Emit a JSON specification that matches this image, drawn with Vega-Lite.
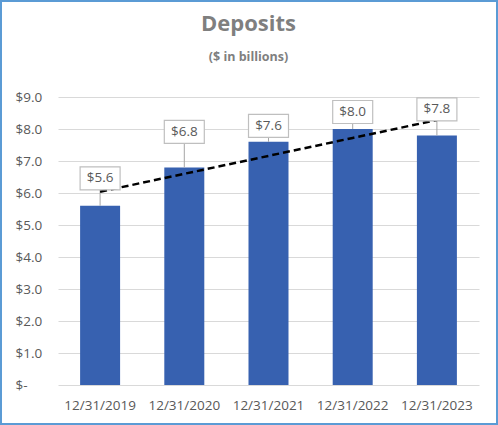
{
  "$schema": "https://vega.github.io/schema/vega-lite/v6.json",
  "width": 421,
  "height": 288,
  "autosize": {"type": "none"},
  "padding": {"left": 58, "top": 97, "right": 19, "bottom": 40},
  "background": "white",
  "title": {
    "text": "Deposits",
    "subtitle": "($ in billions)",
    "anchor": "middle",
    "dx": -20,
    "offset": -64,
    "font": "Open Sans",
    "fontSize": 22,
    "fontWeight": "bold",
    "color": "#7f7f7f",
    "subtitleFont": "Open Sans",
    "subtitleFontSize": 12.5,
    "subtitleFontWeight": "bold",
    "subtitleColor": "#7f7f7f",
    "subtitlePadding": 15
  },
  "data": {
    "values": [
      {"date": "12/31/2019", "value": 5.6, "trend": 6.04},
      {"date": "12/31/2020", "value": 6.8, "trend": 6.6},
      {"date": "12/31/2021", "value": 7.6, "trend": 7.16},
      {"date": "12/31/2022", "value": 8.0, "trend": 7.72},
      {"date": "12/31/2023", "value": 7.8, "trend": 8.28}
    ]
  },
  "encoding": {
    "x": {
      "field": "date",
      "type": "nominal",
      "sort": null,
      "scale": {"paddingInner": 0.525, "paddingOuter": 0.2625},
      "axis": {
        "title": null,
        "labelAngle": 0,
        "domain": false,
        "ticks": false,
        "tickSize": 0,
        "labelPadding": 13,
        "labelFont": "Open Sans",
        "labelFontSize": 13.5,
        "labelColor": "#595959"
      }
    },
    "y": {
      "field": "value",
      "type": "quantitative",
      "scale": {"domain": [0, 9], "nice": false},
      "axis": {
        "title": null,
        "values": [0, 1, 2, 3, 4, 5, 6, 7, 8, 9],
        "labelOverlap": false,
        "labelExpr": "datum.value == 0 ? '$-' : '$' + format(datum.value, '.1f')",
        "labelAlign": "left",
        "labelPadding": 43,
        "ticks": false,
        "tickSize": 0,
        "domain": false,
        "gridColor": "#d9d9d9",
        "labelFont": "Open Sans",
        "labelFontSize": 13.5,
        "labelColor": "#595959"
      }
    }
  },
  "layer": [
    {
      "mark": {"type": "bar", "color": "#3761B0"}
    },
    {
      "mark": {
        "type": "rule",
        "color": "#a6a6a6",
        "strokeWidth": 1,
        "y2Offset": {"expr": "datum.date == '12/31/2019' ? -16 : datum.date == '12/31/2020' ? -24 : datum.date == '12/31/2021' ? -4.5 : datum.date == '12/31/2022' ? -5.5 : -14.5"}
      },
      "encoding": {
        "y2": {"field": "value"}
      }
    },
    {
      "mark": {"type": "line", "color": "#000000", "strokeWidth": 2.5, "strokeDash": [7, 4]},
      "encoding": {
        "y": {
          "field": "trend",
          "type": "quantitative",
          "scale": {"domain": [0, 9], "nice": false},
          "axis": {
            "title": null,
            "values": [0, 1, 2, 3, 4, 5, 6, 7, 8, 9],
            "labelOverlap": false,
            "labelExpr": "datum.value == 0 ? '$-' : '$' + format(datum.value, '.1f')",
            "labelAlign": "left",
            "labelPadding": 43,
            "ticks": false,
            "tickSize": 0,
            "domain": false,
            "gridColor": "#d9d9d9",
            "labelFont": "Open Sans",
            "labelFontSize": 13.5,
            "labelColor": "#595959"
          }
        }
      }
    },
    {
      "mark": {
        "type": "point",
        "shape": "M-1,-0.575H1V0.575H-1Z",
        "size": 1600,
        "filled": true,
        "fill": "#ffffff",
        "stroke": "#bfbfbf",
        "strokeWidth": 1.2,
        "opacity": 1,
        "yOffset": {"expr": "datum.date == '12/31/2019' ? -27.5 : datum.date == '12/31/2020' ? -35.5 : datum.date == '12/31/2021' ? -16 : datum.date == '12/31/2022' ? -17 : -26"}
      }
    },
    {
      "mark": {
        "type": "text",
        "font": "Open Sans",
        "fontSize": 13.5,
        "color": "#595959",
        "baseline": "middle",
        "yOffset": {"expr": "datum.date == '12/31/2019' ? -27.5 : datum.date == '12/31/2020' ? -35.5 : datum.date == '12/31/2021' ? -16 : datum.date == '12/31/2022' ? -17 : -26"}
      },
      "encoding": {
        "text": {"field": "value", "type": "quantitative", "format": "$.1f"}
      }
    },
    {
      "data": {"values": [{"frame": "border"}]},
      "mark": {"type": "rect", "fill": null, "stroke": "#5B9BD5", "strokeWidth": 2},
      "encoding": {
        "x": {"value": -57},
        "x2": {"value": 439},
        "y": {"value": -96},
        "y2": {"value": 327}
      }
    }
  ],
  "config": {"view": {"stroke": null}}
}
